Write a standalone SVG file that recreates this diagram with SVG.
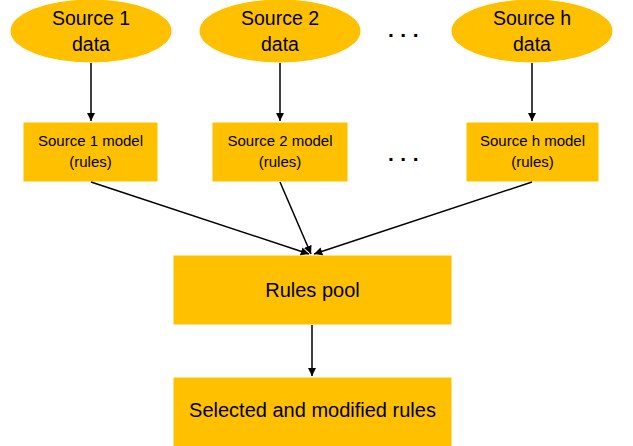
<svg xmlns="http://www.w3.org/2000/svg" width="633" height="446" viewBox="0 0 633 446">
  <style>
    .node { fill: #FFC000; stroke: #FFFFFF; stroke-width: 1; }
    .big { font-family: "Liberation Sans", Arial, sans-serif; font-size: 19.5px; fill: #000; text-anchor: middle; }
    .small { font-family: "Liberation Sans", Arial, sans-serif; font-size: 15px; fill: #000; text-anchor: middle; }
    .box { font-family: "Liberation Sans", Arial, sans-serif; font-size: 20px; fill: #000; text-anchor: middle; }
    .dots { font-family: "Liberation Sans", Arial, sans-serif; font-size: 21px; font-weight: bold; fill: #000; letter-spacing: 6.5px; }
    .edge { stroke: #000; stroke-width: 1.5; fill: none; marker-end: url(#arrow); }
  </style>
  <defs>
    <marker id="arrow" viewBox="0 0 10 10" refX="10" refY="5" markerWidth="5.5" markerHeight="5.5" orient="auto" markerUnits="strokeWidth">
      <path d="M0,0 L10,5 L0,10 z" fill="#000"/>
    </marker>
  </defs>
  <rect width="633" height="446" fill="#FFFFFF"/>

  <g id="source1-data">
    <ellipse class="node" cx="91" cy="31" rx="81" ry="32"/>
    <text class="big" x="91" y="25">Source 1</text>
    <text class="big" x="91" y="51">data</text>
  </g>
  <g id="source2-data">
    <ellipse class="node" cx="280" cy="31" rx="81" ry="32"/>
    <text class="big" x="280" y="25">Source 2</text>
    <text class="big" x="280" y="51">data</text>
  </g>
  <g id="sourceh-data">
    <ellipse class="node" cx="532" cy="31" rx="81" ry="32"/>
    <text class="big" x="532" y="25">Source h</text>
    <text class="big" x="532" y="51">data</text>
  </g>

  <g id="source1-model">
    <rect class="node" x="23" y="122" width="135" height="60"/>
    <text class="small" x="90.5" y="146">Source 1 model</text>
    <text class="small" x="90.5" y="167">(rules)</text>
  </g>
  <g id="source2-model">
    <rect class="node" x="212" y="122" width="136" height="60"/>
    <text class="small" x="280" y="146">Source 2 model</text>
    <text class="small" x="280" y="167">(rules)</text>
  </g>
  <g id="sourceh-model">
    <rect class="node" x="466" y="122" width="133" height="60"/>
    <text class="small" x="532.5" y="146">Source h model</text>
    <text class="small" x="532.5" y="167">(rules)</text>
  </g>

  <g id="rules-pool">
    <rect class="node" x="173" y="255" width="279" height="70"/>
    <text class="box" x="312.5" y="297">Rules pool</text>
  </g>
  <g id="selected-rules">
    <rect class="node" x="173" y="377" width="279" height="70"/>
    <text class="box" x="312.5" y="417">Selected and modified rules</text>
  </g>

  <g id="ellipsis">
    <text class="dots" x="388" y="37">...</text>
    <text class="dots" x="388" y="161">...</text>
  </g>

  <g id="connectors">
    <line class="edge" x1="91" y1="63" x2="91" y2="121"/>
    <line class="edge" x1="280" y1="63" x2="280" y2="121"/>
    <line class="edge" x1="532" y1="63" x2="532" y2="121"/>
    <line class="edge" x1="91" y1="182" x2="309" y2="254"/>
    <line class="edge" x1="280" y1="182" x2="311" y2="254"/>
    <line class="edge" x1="532" y1="182" x2="314" y2="254"/>
    <line class="edge" x1="312" y1="325" x2="312" y2="376"/>
  </g>
</svg>
